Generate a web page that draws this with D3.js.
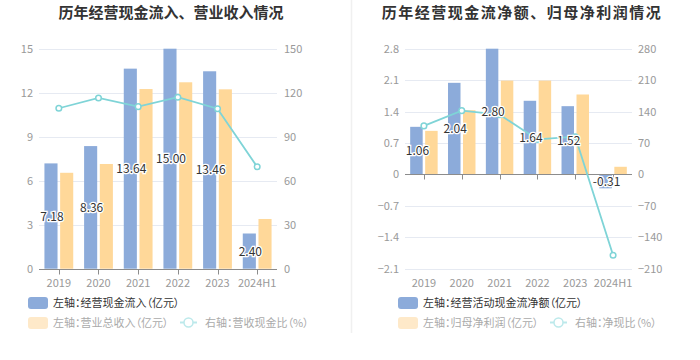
<!DOCTYPE html>
<html><head><meta charset="utf-8">
<script src="https://cdn.jsdelivr.net/npm/d3@7/dist/d3.min.js"></script>
<style>
html,body{margin:0;padding:0;background:#fff;}
svg{display:block;font-family:"Noto Sans CJK SC","Noto Sans",sans-serif;}
.pal{font-feature-settings:"palt";}
</style></head>
<body><svg id="c" width="700" height="360"></svg>
<script>
const categories = ["2019","2020","2021","2022","2023","2024H1"];
// Chart 1
const inflow = [7.18, 8.36, 13.64, 15.00, 13.46, 2.40];
const revenue = [6.54, 7.14, 12.25, 12.71, 12.23, 3.39];
const cashRatio = [109.4, 116.4, 110.5, 116.9, 109.1, 69.5];
const left1Ticks = [0, 3, 6, 9, 12, 15];
const right1Ticks = [0, 30, 60, 90, 120, 150];
// Chart 2
const netCash = [1.06, 2.04, 2.80, 1.64, 1.52, -0.31];
const netProfit = [0.97, 1.43, 2.09, 2.09, 1.78, 0.17];
const netRatio = [108, 142, 133, 78, 84, -180];
const left2Ticks = [-2.1, -1.4, -0.7, 0, 0.7, 1.4, 2.1, 2.8];
const right2Ticks = [-210, -140, -70, 0, 70, 140, 210, 280];

const titles = ["历年经营现金流入、营业收入情况", "历年经营现金流净额、归母净利润情况"];
const legend1 = ["左轴：经营现金流入（亿元）", "左轴：营业总收入（亿元）", "右轴：营收现金比（%）"];
const legend2 = ["左轴：经营活动现金流净额（亿元）", "左轴：归母净利润（亿元）", "右轴：净现比（%）"];

const BLUE = "#8cabda", YELLOW = "#ffd899", CYAN = "#7fd4d7";
const svg = d3.select("#c");

// separator
svg.append("line").attr("x1", 351.5).attr("x2", 351.5).attr("y1", 0).attr("y2", 333)
  .attr("stroke", "#f0f0f0").attr("stroke-width", 1.5);

function drawChart(o) {
  const g = svg.append("g");
  const x = d3.scaleBand().domain(categories).range([o.x0, o.x1]).padding(0);
  const yL = d3.scaleLinear().domain([o.lt[0], o.lt[o.lt.length-1]]).range([o.yb, o.yt]);
  const yR = d3.scaleLinear().domain([o.rt[0], o.rt[o.rt.length-1]]).range([o.yb, o.yt]);
  // title
  g.append("text").attr("x", o.tx).attr("y", 18).attr("text-anchor", "middle")
    .attr("font-size", 15).attr("font-weight", "bold").attr("fill", "#333")
    .attr("letter-spacing", o.ls).text(o.title);
  // grid
  g.selectAll(".grid").data(o.lt).enter().append("line")
    .attr("x1", o.x0).attr("x2", o.x1)
    .attr("y1", d => Math.round(yL(d)) + 0.5).attr("y2", d => Math.round(yL(d)) + 0.5)
    .attr("stroke", "#e6eaf2").attr("stroke-width", 1);
  // left axis labels
  const axL = d3.axisLeft(yL).tickValues(o.lt).tickSize(0).tickPadding(0).tickFormat(d => d3.format("")(d));
  const gl = g.append("g").attr("transform", `translate(${o.lx},0)`).call(axL);
  gl.select(".domain").remove();
  gl.selectAll("text").attr("font-size", 11).attr("fill", "#999").attr("font-family", "'Noto Sans CJK SC',sans-serif");
  const axR = d3.axisRight(yR).tickValues(o.rt).tickSize(0).tickPadding(0).tickFormat(d => d3.format("")(d));
  const gr = g.append("g").attr("transform", `translate(${o.rx},0)`).call(axR);
  gr.select(".domain").remove();
  gr.selectAll("text").attr("font-size", 11).attr("fill", "#999").attr("font-family", "'Noto Sans CJK SC',sans-serif");

  const bw = x.bandwidth();
  const barW = bw * 0.33, gap = bw * 0.066;
  const off = (bw - 2 * barW - gap) / 2;
  const y0 = yL(0);
  // bars
  g.selectAll(".b1").data(o.a).enter().append("rect")
    .attr("x", (d, i) => x(categories[i]) + off)
    .attr("y", d => Math.min(yL(d), y0)).attr("width", barW)
    .attr("height", d => Math.abs(yL(d) - y0)).attr("fill", BLUE);
  g.selectAll(".b2").data(o.b).enter().append("rect")
    .attr("x", (d, i) => x(categories[i]) + off + barW + gap)
    .attr("y", d => Math.min(yL(d), y0)).attr("width", barW)
    .attr("height", d => Math.abs(yL(d) - y0)).attr("fill", YELLOW);
  // x axis (at zero)
  const ay = Math.round(y0) + 0.5;
  g.append("line").attr("x1", o.x0).attr("x2", o.x1).attr("y1", ay).attr("y2", ay)
    .attr("stroke", "#8c8c8c").attr("stroke-width", 1);
  g.selectAll(".tk").data(categories).enter().append("line")
    .attr("x1", d => Math.round(x(d) + bw / 2) + 0.5).attr("x2", d => Math.round(x(d) + bw / 2) + 0.5)
    .attr("y1", ay).attr("y2", ay + 5).attr("stroke", "#8c8c8c");
  // x labels at bottom
  g.selectAll(".xl").data(categories).enter().append("text")
    .attr("x", d => x(d) + bw / 2).attr("y", o.yb + 18).attr("text-anchor", "middle")
    .attr("font-size", 11).attr("fill", "#999").text(d => d);
  // line
  const line = d3.line().x((d, i) => x(categories[i]) + bw / 2).y(d => yR(d));
  g.append("path").datum(o.c).attr("d", line).attr("fill", "none")
    .attr("stroke", CYAN).attr("stroke-width", 1.8);
  g.selectAll(".pt").data(o.c).enter().append("circle")
    .attr("cx", (d, i) => x(categories[i]) + bw / 2).attr("cy", d => yR(d)).attr("r", 2.8)
    .attr("fill", "#fff").attr("stroke", CYAN).attr("stroke-width", 1.5);
  // value labels
  g.selectAll(".vl").data(o.a).enter().append("text")
    .attr("x", (d, i) => x(categories[i]) + off + barW / 2 + 1)
    .attr("y", d => (yL(d) + y0) / 2 + 4.5).attr("text-anchor", "middle")
    .attr("font-size", 12).attr("fill", "#333")
    .attr("stroke", "#fff").attr("stroke-width", 2.5).attr("paint-order", "stroke")
    .text(d => d.toFixed(2));
  // legend
  const L = o.legend;
  const lg = g.append("g").attr("class", "pal");
  lg.append("rect").attr("x", o.sx).attr("y", 297).attr("width", 20).attr("height", 12).attr("rx", 3).attr("fill", BLUE);
  lg.append("text").attr("x", o.sx + 25).attr("y", 306.5).attr("font-size", 11).attr("fill", "#333").text(L[0]);
  lg.append("rect").attr("x", o.sx).attr("y", 317).attr("width", 20).attr("height", 12).attr("rx", 3).attr("fill", "#fee9c9");
  lg.append("text").attr("x", o.sx + 25).attr("y", 326.5).attr("font-size", 11).attr("fill", "#aaa").text(L[1]);
  lg.append("line").attr("x1", o.ix).attr("x2", o.ix + 17).attr("y1", 322.5).attr("y2", 322.5)
    .attr("stroke", "#bce9eb").attr("stroke-width", 2);
  lg.append("circle").attr("cx", o.ix + 8.5).attr("cy", 322.5).attr("r", 4.5).attr("fill", "#fff")
    .attr("stroke", "#bce9eb").attr("stroke-width", 1.5);
  lg.append("text").attr("x", o.ix + 25).attr("y", 326.5).attr("font-size", 11).attr("fill", "#aaa").text(L[2]);
}

drawChart({x0: 39, x1: 277, yt: 48.7, yb: 268.7, lx: 33, rx: 284, tx: 171, ls: 0,
  lt: left1Ticks, rt: right1Ticks, a: inflow, b: revenue, c: cashRatio,
  title: titles[0], legend: legend1, sx: 28, ix: 180});
drawChart({x0: 405, x1: 632, yt: 48.7, yb: 268.7, lx: 399, rx: 638, tx: 522, ls: 1.5,
  lt: left2Ticks, rt: right2Ticks, a: netCash, b: netProfit, c: netRatio,
  title: titles[1], legend: legend2, sx: 398, ix: 550});
</script></body></html>
